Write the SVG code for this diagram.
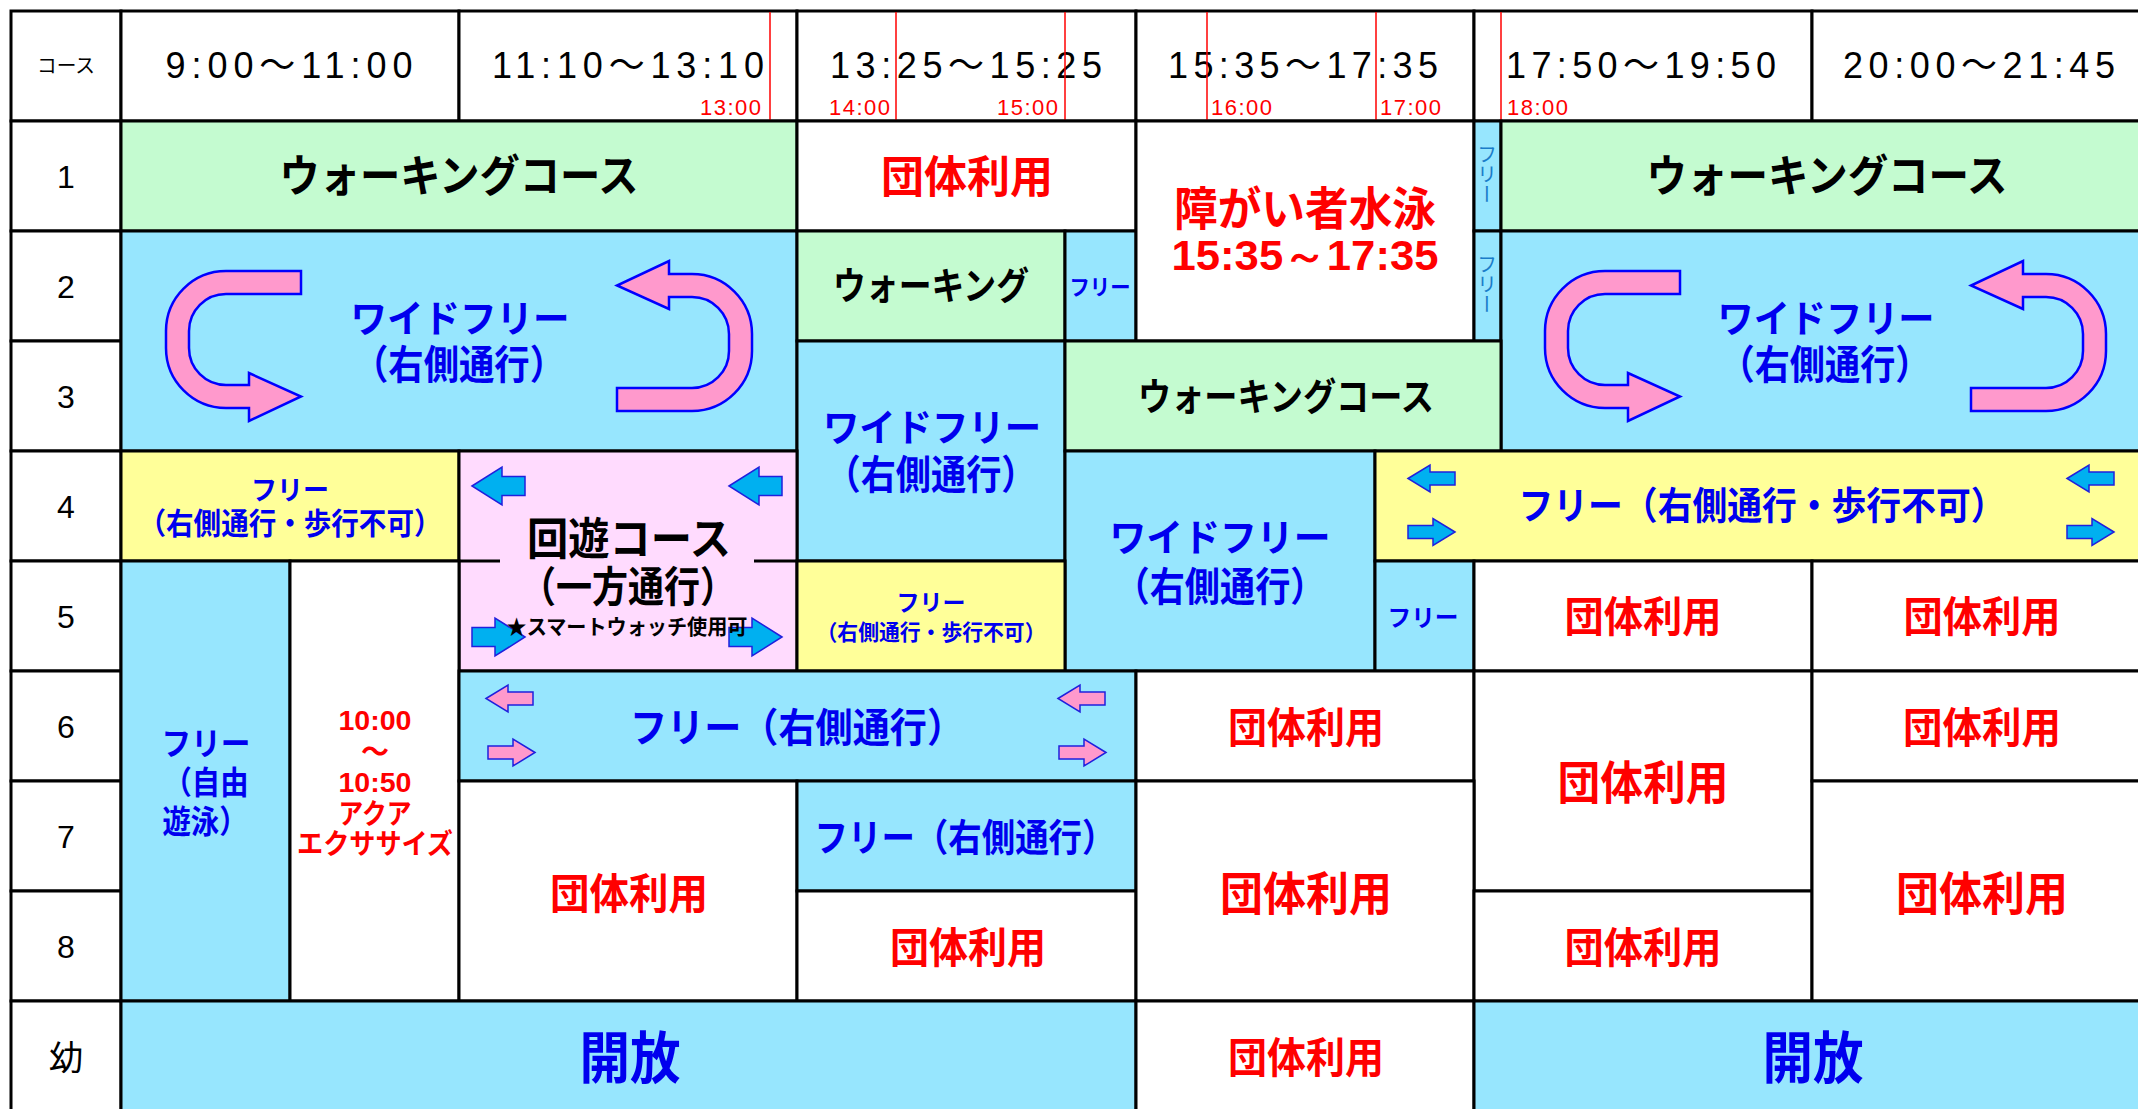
<svg xmlns="http://www.w3.org/2000/svg" width="2138" height="1109" viewBox="0 0 2138 1109">
<style>
.c{stroke:#000;stroke-width:3}
.w{fill:#fff}.g{fill:#C4FBD0}.b{fill:#97E6FE}.y{fill:#FFFF99}.p{fill:#FFDBFE}
.j{font-family:"Noto Sans CJK JP",sans-serif;font-weight:bold;text-anchor:middle}
.jn{font-family:"Noto Sans CJK JP",sans-serif;font-weight:normal;text-anchor:middle;fill:#000}
.k{fill:#000}.bl{fill:#0000EE}.rd{fill:#FF0000}
.t{font-family:"Liberation Sans","Noto Sans CJK JP",sans-serif;font-size:36px;text-anchor:middle;fill:#000}
.n{font-family:"Liberation Sans",sans-serif;font-size:32px;text-anchor:middle;fill:#000}
.s{font-family:"Liberation Sans",sans-serif;font-size:22px;fill:#FF0000}
.d{font-family:"Liberation Sans",sans-serif;font-weight:bold;text-anchor:middle;fill:#FF0000}
.v{font-family:"Noto Sans CJK JP",sans-serif;font-size:20px;fill:#1A7CC9;writing-mode:vertical-rl;text-anchor:middle}
.rl{stroke:#FF0000;stroke-width:1.5}
.ua{fill:#FF99CC;stroke:#0000FF;stroke-width:2.5}
.ba{fill:#00B0F0;stroke:#2020DD;stroke-width:1.5}
.pa{fill:#FF99CC;stroke:#2020DD;stroke-width:1.5}
</style>
<defs>
<path id="uL" d="M301,271 H226 A60,60 0 0 0 166,331 V348 A60,60 0 0 0 226,408 H249 V421 L301,396.5 L249,373 V385 H226 A37,37 0 0 1 189,348 V331 A37,37 0 0 1 226,294 H301 Z"/>
<path id="aS" d="M-23.5,0 L-1.5,-13.5 V-6.5 H23.5 V6.5 H-1.5 V13.5 Z"/>
<path id="aB" d="M-26.5,0 L3.5,-19 V-9.5 H26.5 V9.5 H3.5 V19 Z"/>
</defs>
<rect x="0" y="0" width="2138" height="1109" fill="#fff"/>

<g id="header">
<rect class="c w" x="11" y="11" width="110" height="110"/>
<text class="jn" x="66" y="73" font-size="20" textLength="58" lengthAdjust="spacingAndGlyphs">コース</text>
<rect class="c w" x="121" y="11" width="338" height="110"/>
<rect class="c w" x="459" y="11" width="338" height="110"/>
<rect class="c w" x="797" y="11" width="339" height="110"/>
<rect class="c w" x="1136" y="11" width="338" height="110"/>
<rect class="c w" x="1474" y="11" width="338" height="110"/>
<rect class="c w" x="1812" y="11" width="338" height="110"/>
<text class="t" x="289" y="78" textLength="247" lengthAdjust="spacing">9:00～11:00</text>
<text class="t" x="628" y="78" textLength="272" lengthAdjust="spacing">11:10～13:10</text>
<text class="t" x="966" y="78" textLength="272" lengthAdjust="spacing">13:25～15:25</text>
<text class="t" x="1303" y="78" textLength="270" lengthAdjust="spacing">15:35～17:35</text>
<text class="t" x="1641" y="78" textLength="270" lengthAdjust="spacing">17:50～19:50</text>
<text class="t" x="1979" y="78" textLength="272" lengthAdjust="spacing">20:00～21:45</text>
<line class="rl" x1="770" y1="12" x2="770" y2="120"/>
<line class="rl" x1="896" y1="12" x2="896" y2="120"/>
<line class="rl" x1="1065" y1="12" x2="1065" y2="120"/>
<line class="rl" x1="1207" y1="12" x2="1207" y2="120"/>
<line class="rl" x1="1376" y1="12" x2="1376" y2="120"/>
<line class="rl" x1="1501" y1="12" x2="1501" y2="120"/>
<text class="s" x="700" y="115" textLength="61" lengthAdjust="spacing">13:00</text>
<text class="s" x="829" y="115" textLength="61" lengthAdjust="spacing">14:00</text>
<text class="s" x="997" y="115" textLength="61" lengthAdjust="spacing">15:00</text>
<text class="s" x="1211" y="115" textLength="61" lengthAdjust="spacing">16:00</text>
<text class="s" x="1380" y="115" textLength="61" lengthAdjust="spacing">17:00</text>
<text class="s" x="1507" y="115" textLength="61" lengthAdjust="spacing">18:00</text>
</g>

<g id="labels">
<rect class="c w" x="11" y="121" width="110" height="110"/>
<rect class="c w" x="11" y="231" width="110" height="110"/>
<rect class="c w" x="11" y="341" width="110" height="110"/>
<rect class="c w" x="11" y="451" width="110" height="110"/>
<rect class="c w" x="11" y="561" width="110" height="110"/>
<rect class="c w" x="11" y="671" width="110" height="110"/>
<rect class="c w" x="11" y="781" width="110" height="110"/>
<rect class="c w" x="11" y="891" width="110" height="110"/>
<rect class="c w" x="11" y="1001" width="110" height="110"/>
<text class="n" x="66" y="187.5">1</text>
<text class="n" x="66" y="297.5">2</text>
<text class="n" x="66" y="407.5">3</text>
<text class="n" x="66" y="517.5">4</text>
<text class="n" x="66" y="627.5">5</text>
<text class="n" x="66" y="737.5">6</text>
<text class="n" x="66" y="847.5">7</text>
<text class="n" x="66" y="957.5">8</text>
<text class="jn" x="66" y="1070" font-size="34">幼</text>
</g>

<g id="walk-r1-left">
<rect class="c g" x="121" y="121" width="676" height="110"/>
<text class="j k" x="459" y="191.7" font-size="44" textLength="359" lengthAdjust="spacingAndGlyphs">ウォーキングコース</text>
</g>
<g id="wide-left">
<rect class="c b" x="121" y="231" width="676" height="220"/>
<use href="#uL" class="ua"/>
<use href="#uL" class="ua" transform="rotate(180 459 341)"/>
<text class="j bl" x="460" y="332.4" font-size="38" textLength="219" lengthAdjust="spacingAndGlyphs">ワイドフリー</text>
<text class="j bl" x="459" y="379.2" font-size="40" textLength="212" lengthAdjust="spacingAndGlyphs">（右側通行）</text>
</g>
<g id="group-r1-t3">
<rect class="c w" x="797" y="121" width="339" height="110"/>
<text class="j rd" x="967" y="192.7" font-size="44" textLength="172" lengthAdjust="spacingAndGlyphs">団体利用</text>
</g>
<g id="walk-r2-t3">
<rect class="c g" x="797" y="231" width="268" height="110"/>
<text class="j k" x="931" y="299.4" font-size="38" textLength="196" lengthAdjust="spacingAndGlyphs">ウォーキング</text>
</g>
<g id="free-r2-t3">
<rect class="c b" x="1065" y="231" width="71" height="110"/>
<text class="j bl" x="1100" y="295.4" font-size="22" textLength="61" lengthAdjust="spacingAndGlyphs">フリー</text>
</g>
<g id="shogai">
<rect class="c w" x="1136" y="121" width="338" height="220"/>
<text class="j rd" x="1305" y="224.5" font-size="46" textLength="262" lengthAdjust="spacingAndGlyphs">障がい者水泳</text>
<text class="d" x="1305" y="270" font-size="42" textLength="267" lengthAdjust="spacingAndGlyphs">15:35～17:35</text>
</g>
<g id="strip-r1">
<rect class="c b" x="1474" y="121" width="27" height="110"/>
<text class="v" x="1487" y="174">フリー</text>
</g>
<g id="strip-r2">
<rect class="c b" x="1474" y="231" width="27" height="110"/>
<text class="v" x="1487" y="284">フリー</text>
</g>
<g id="walk-r1-right">
<rect class="c g" x="1501" y="121" width="649" height="110"/>
<text class="j k" x="1827" y="191.7" font-size="44" textLength="361" lengthAdjust="spacingAndGlyphs">ウォーキングコース</text>
</g>
<g id="wide-right">
<rect class="c b" x="1501" y="231" width="649" height="220"/>
<use href="#uL" class="ua" transform="translate(1379 0)"/>
<use href="#uL" class="ua" transform="rotate(180 1825.5 341) translate(1379 0)"/>
<text class="j bl" x="1826" y="332.4" font-size="38" textLength="217" lengthAdjust="spacingAndGlyphs">ワイドフリー</text>
<text class="j bl" x="1825" y="379.2" font-size="40" textLength="211" lengthAdjust="spacingAndGlyphs">（右側通行）</text>
</g>
<g id="wide-r34-t3">
<rect class="c b" x="797" y="341" width="268" height="220"/>
<text class="j bl" x="932" y="441.4" font-size="38" textLength="218" lengthAdjust="spacingAndGlyphs">ワイドフリー</text>
<text class="j bl" x="931" y="489.2" font-size="40" textLength="211" lengthAdjust="spacingAndGlyphs">（右側通行）</text>
</g>
<g id="walk-r3">
<rect class="c g" x="1065" y="341" width="436" height="110"/>
<text class="j k" x="1286" y="410.4" font-size="38" textLength="296" lengthAdjust="spacingAndGlyphs">ウォーキングコース</text>
</g>
<g id="free-r4-t1">
<rect class="c y" x="121" y="451" width="338" height="110"/>
<text class="j bl" x="290" y="500.3" font-size="27" textLength="78" lengthAdjust="spacingAndGlyphs">フリー</text>
<text class="j bl" x="290" y="534.4" font-size="30" textLength="303" lengthAdjust="spacingAndGlyphs">（右側通行・歩行不可）</text>
</g>
<g id="kaiyu">
<rect class="c p" x="459" y="451" width="338" height="220"/>
<line class="c" x1="459" y1="561" x2="500" y2="561"/>
<line class="c" x1="754" y1="561" x2="797" y2="561"/>
<use href="#aB" class="ba" transform="translate(498.5 486)"/>
<use href="#aB" class="ba" transform="translate(755.5 486)"/>
<use href="#aB" class="ba" transform="translate(498.5 637) scale(-1 1)"/>
<use href="#aB" class="ba" transform="translate(755.5 637) scale(-1 1)"/>
<text class="j k" x="629" y="554.7" font-size="44" textLength="204" lengthAdjust="spacingAndGlyphs">回遊コース</text>
<text class="j k" x="628" y="602" font-size="42" textLength="216" lengthAdjust="spacingAndGlyphs">（一方通行）</text>
<text class="j k" x="627" y="634" font-size="21" textLength="241" lengthAdjust="spacingAndGlyphs">★スマートウォッチ使用可</text>
</g>
<g id="wide-r45">
<rect class="c b" x="1065" y="451" width="310" height="220"/>
<text class="j bl" x="1220" y="551.4" font-size="38" textLength="221" lengthAdjust="spacingAndGlyphs">ワイドフリー</text>
<text class="j bl" x="1220" y="601.2" font-size="40" textLength="211" lengthAdjust="spacingAndGlyphs">（右側通行）</text>
</g>
<g id="free-r4-right">
<rect class="c y" x="1375" y="451" width="775" height="110"/>
<use href="#aS" class="ba" transform="translate(1431.5 478.5)"/>
<use href="#aS" class="ba" transform="translate(2090.5 478.5)"/>
<use href="#aS" class="ba" transform="translate(1431.5 532) scale(-1 1)"/>
<use href="#aS" class="ba" transform="translate(2090.5 532) scale(-1 1)"/>
<text class="j bl" x="1762" y="519.4" font-size="38" textLength="487" lengthAdjust="spacingAndGlyphs">フリー（右側通行・歩行不可）</text>
</g>
<g id="free-r5-t3">
<rect class="c y" x="797" y="561" width="268" height="110"/>
<text class="j bl" x="931" y="610.7" font-size="23" textLength="69" lengthAdjust="spacingAndGlyphs">フリー</text>
<text class="j bl" x="931" y="640.4" font-size="22" textLength="229" lengthAdjust="spacingAndGlyphs">（右側通行・歩行不可）</text>
</g>
<g id="free-r5">
<rect class="c b" x="1375" y="561" width="99" height="110"/>
<text class="j bl" x="1423" y="626" font-size="24" textLength="71" lengthAdjust="spacingAndGlyphs">フリー</text>
</g>
<g id="group-r5-t5">
<rect class="c w" x="1474" y="561" width="338" height="110"/>
<text class="j rd" x="1643" y="632" font-size="42" textLength="157" lengthAdjust="spacingAndGlyphs">団体利用</text>
</g>
<g id="group-r5-t6">
<rect class="c w" x="1812" y="561" width="338" height="110"/>
<text class="j rd" x="1982" y="632" font-size="42" textLength="157" lengthAdjust="spacingAndGlyphs">団体利用</text>
</g>
<g id="free-jiyu">
<rect class="c b" x="121" y="561" width="169" height="440"/>
<text class="j bl" x="206" y="755" font-size="32" textLength="89" lengthAdjust="spacingAndGlyphs">フリー</text>
<text class="j bl" x="206" y="794" font-size="32" textLength="85" lengthAdjust="spacingAndGlyphs">（自由</text>
<text class="j bl" x="205" y="833" font-size="32" textLength="85" lengthAdjust="spacingAndGlyphs">遊泳）</text>
</g>
<g id="aqua">
<rect class="c w" x="290" y="561" width="169" height="440"/>
<text class="d" x="375" y="730" font-size="28" textLength="73" lengthAdjust="spacingAndGlyphs">10:00</text>
<text class="j rd" x="375" y="761.6" font-size="28">～</text>
<text class="d" x="375" y="792" font-size="28" textLength="73" lengthAdjust="spacingAndGlyphs">10:50</text>
<text class="j rd" x="375" y="823.6" font-size="28" textLength="73" lengthAdjust="spacingAndGlyphs">アクア</text>
<text class="j rd" x="375" y="853.6" font-size="28" textLength="156" lengthAdjust="spacingAndGlyphs">エクササイズ</text>
</g>
<g id="free-r6">
<rect class="c b" x="459" y="671" width="677" height="110"/>
<use href="#aS" class="pa" transform="translate(509.5 698.5)"/>
<use href="#aS" class="pa" transform="translate(1081.5 698.5)"/>
<use href="#aS" class="pa" transform="translate(511.5 752.5) scale(-1 1)"/>
<use href="#aS" class="pa" transform="translate(1082.5 752.5) scale(-1 1)"/>
<text class="j bl" x="797" y="742.2" font-size="40" textLength="334" lengthAdjust="spacingAndGlyphs">フリー（右側通行）</text>
</g>
<g id="group-r6-t4">
<rect class="c w" x="1136" y="671" width="338" height="110"/>
<text class="j rd" x="1306" y="743" font-size="42" textLength="156" lengthAdjust="spacingAndGlyphs">団体利用</text>
</g>
<g id="group-r67-t5">
<rect class="c w" x="1474" y="671" width="338" height="220"/>
<text class="j rd" x="1643" y="798.5" font-size="46" textLength="171" lengthAdjust="spacingAndGlyphs">団体利用</text>
</g>
<g id="group-r6-t6">
<rect class="c w" x="1812" y="671" width="338" height="110"/>
<text class="j rd" x="1982" y="743" font-size="42" textLength="158" lengthAdjust="spacingAndGlyphs">団体利用</text>
</g>
<g id="group-r78-t2">
<rect class="c w" x="459" y="781" width="338" height="220"/>
<text class="j rd" x="629" y="909" font-size="42" textLength="158" lengthAdjust="spacingAndGlyphs">団体利用</text>
</g>
<g id="free-r7-t3">
<rect class="c b" x="797" y="781" width="339" height="110"/>
<text class="j bl" x="965" y="851.4" font-size="38" textLength="301" lengthAdjust="spacingAndGlyphs">フリー（右側通行）</text>
</g>
<g id="group-r8-t3">
<rect class="c w" x="797" y="891" width="339" height="110"/>
<text class="j rd" x="968" y="963" font-size="42" textLength="156" lengthAdjust="spacingAndGlyphs">団体利用</text>
</g>
<g id="group-r78-t4">
<rect class="c w" x="1136" y="781" width="338" height="220"/>
<text class="j rd" x="1306" y="909.5" font-size="46" textLength="172" lengthAdjust="spacingAndGlyphs">団体利用</text>
</g>
<g id="group-r8-t5">
<rect class="c w" x="1474" y="891" width="338" height="110"/>
<text class="j rd" x="1643" y="963" font-size="42" textLength="157" lengthAdjust="spacingAndGlyphs">団体利用</text>
</g>
<g id="group-r78-t6">
<rect class="c w" x="1812" y="781" width="338" height="220"/>
<text class="j rd" x="1982" y="909.5" font-size="46" textLength="172" lengthAdjust="spacingAndGlyphs">団体利用</text>
</g>
<g id="open-left">
<rect class="c b" x="121" y="1001" width="1015" height="110"/>
<text class="j bl" x="630" y="1078" font-size="56" textLength="101" lengthAdjust="spacingAndGlyphs">開放</text>
</g>
<g id="group-yo-t4">
<rect class="c w" x="1136" y="1001" width="338" height="110"/>
<text class="j rd" x="1306" y="1073" font-size="42" textLength="156" lengthAdjust="spacingAndGlyphs">団体利用</text>
</g>
<g id="open-right">
<rect class="c b" x="1474" y="1001" width="676" height="110"/>
<text class="j bl" x="1813" y="1078" font-size="56" textLength="101" lengthAdjust="spacingAndGlyphs">開放</text>
</g>
</svg>
